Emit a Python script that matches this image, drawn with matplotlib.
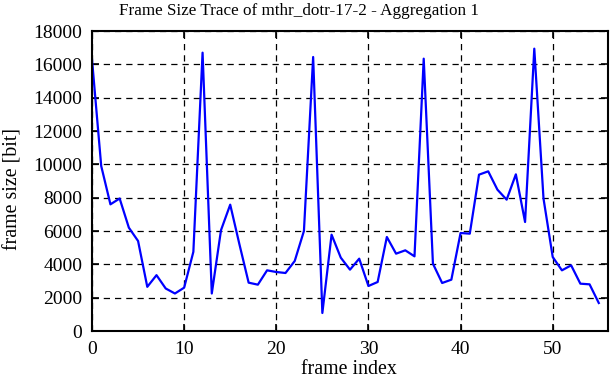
import matplotlib
matplotlib.use("Agg")
import matplotlib.pyplot as plt
import numpy as np

# frame sizes
frame_index = np.arange(56)
frame_size = [16300, 9900, 7600, 7950, 6200, 5400, 2650, 3350, 2550, 2250,
              2600, 4750, 16700, 2250, 6050, 7580, 5200, 2900, 2780, 3640,
              3540, 3480, 4200, 6000, 16440, 1080, 5780, 4400, 3680, 4340,
              2700, 2940, 5640, 4640, 4840, 4480, 16340, 4040, 2880, 3080,
              5880, 5840, 9380, 9580, 8480, 7880, 9400, 6540, 16940, 7950,
              4440, 3640, 3940, 2840, 2800, 1680]

xticks = [0, 10, 20, 30, 40, 50]
yticks = list(range(0, 18001, 2000))

plt.rcParams['font.family'] = ['Liberation Serif', 'DejaVu Serif']

fig = plt.figure(figsize=(6.12, 3.82), dpi=100)
ax = fig.add_axes([92 / 612, 1 - 331 / 382, 516 / 612, 300 / 382])

ax.plot(frame_index, frame_size, color='#0000ff', linewidth=1.6)

ax.set_xlim(0, 56)
ax.set_ylim(0, 18000)
ax.set_xticks(xticks)
ax.set_yticks(yticks)
ax.tick_params(direction='in', top=True, right=True, length=5, width=1.2,
               pad=7, labelsize=14)
ax.grid(True, color='black', linestyle=(0, (5, 4)), linewidth=0.9)
for s in ax.spines.values():
    s.set_linewidth(1.5)

fig.text(349 / 612, 1 - 369 / 382, "frame index", ha='center', va='center',
         fontsize=14.3)
fig.text(13 / 612, 1 - 189 / 382, "frame size [bit]", ha='center', va='center',
         rotation=90, fontsize=14.3)
fig.text(299 / 612, 1 - 11 / 382,
         "Frame Size Trace of mthr_dotr-17-2 - Aggregation 1",
         ha='center', va='center', fontsize=12.3)

fig.savefig("out.png", dpi=100)
